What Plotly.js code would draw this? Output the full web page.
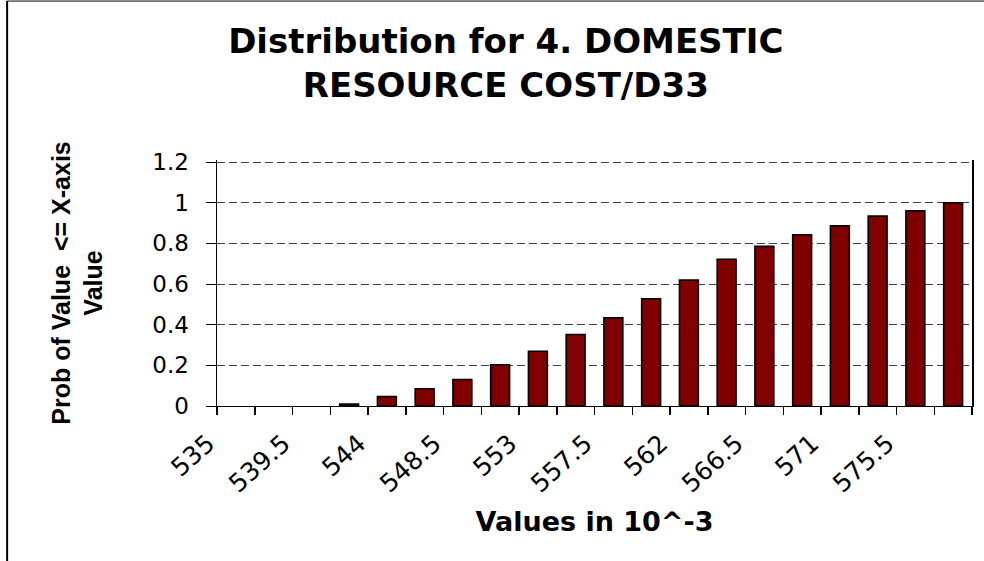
<!DOCTYPE html>
<html>
<head>
<meta charset="utf-8">
<script src="https://cdn.plot.ly/plotly-3.0.1.min.js"></script>
<style>
  html, body { margin: 0; padding: 0; background: #fff; }
  #chart { width: 984px; height: 561px; }
</style>
</head>
<body>
<div id="chart"></div>
<script>
// Category values (x, in 10^-3)
const values = [535, 537.25, 539.5, 541.75, 544, 546.25, 548.5, 550.75, 553, 555.25,
                557.5, 559.75, 562, 564.25, 566.5, 568.75, 571, 573.25, 575.5, 577.75];
// Cumulative probability (Prob of Value <= X-axis Value)
const probs = [0, 0, 0, 0.01, 0.046, 0.085, 0.13, 0.203, 0.269, 0.352,
               0.434, 0.527, 0.619, 0.722, 0.785, 0.842, 0.886, 0.934, 0.96, 1.0];
// Tick labels shown on x axis
const tickLabels = ['535', '539.5', '544', '548.5', '553', '557.5', '562', '566.5', '571', '575.5'];
const yTicks = [0, 0.2, 0.4, 0.6, 0.8, 1, 1.2];

const step = values[1] - values[0];
const xRange = [values[0] - step / 2, values[values.length - 1] + step / 2];
const tickVals = tickLabels.map(Number);
// no outline on empty (zero-height) bars
const outlineWidths = probs.map(p => (p > 0 ? 1.6 : 0));

const trace = {
  type: 'bar',
  x: values,
  y: probs,
  marker: { color: '#800000', line: { color: '#000000', width: outlineWidths } },
  hoverinfo: 'skip'
};

const layout = {
  width: 984,
  height: 561,
  margin: { l: 217, r: 12, t: 160, b: 155 },
  paper_bgcolor: '#ffffff',
  plot_bgcolor: '#ffffff',
  bargap: 0.5,
  showlegend: false,
  title: {
    text: 'Distribution for 4. DOMESTIC<br>RESOURCE COST/D33',
    font: { family: 'DejaVu Sans', size: 34, weight: 'bold', color: '#000000' },
    xref: 'container', x: 0.514, xanchor: 'center',
    yref: 'container', y: 0.906, yanchor: 'middle'
  },
  xaxis: {
    type: 'linear',
    range: xRange,
    tickvals: tickVals,
    ticktext: tickLabels,
    tickangle: -42,
    ticks: '',
    ticklabelshift: -28,
    ticklabelstandoff: 12,
    tickfont: { family: 'DejaVu Sans', size: 25, color: '#000000' },
    showline: true, linecolor: '#000000', linewidth: 1,
    showgrid: false, zeroline: false,
    minor: { ticks: 'outside', tick0: xRange[0], dtick: step, ticklen: 8,
             tickcolor: '#000000', tickwidth: 1.5, showgrid: false },
    title: { text: 'Values in 10^-3',
             font: { family: 'DejaVu Sans', size: 27, weight: 'bold', color: '#000000' },
             standoff: 14 },
    automargin: false,
    fixedrange: true
  },
  yaxis: {
    range: [0, 1.21],
    tickvals: yTicks,
    ticks: 'outside', ticklen: 10, tickcolor: '#000000', tickwidth: 1,
    showline: true, mirror: true, linecolor: '#000000', linewidth: 1.5,
    showgrid: true, gridcolor: '#404040', gridwidth: 1, griddash: '8px,4px',
    zeroline: false,
    tickfont: { family: 'DejaVu Sans', size: 23, color: '#000000' },
    ticklabelstandoff: 12,
    title: { text: 'Prob of Value  &lt;= X-axis<br>Value',
             font: { family: 'Liberation Sans, Arial', size: 25, weight: 'bold', color: '#000000' },
             standoff: 42 },
    automargin: false,
    fixedrange: true
  },
  shapes: [
    { type: 'line', xref: 'paper', yref: 'paper', x0: -0.278, x1: -0.278, y0: -1, y1: 1.646,
      line: { color: '#000000', width: 2 } },
    { type: 'line', xref: 'paper', yref: 'paper', x0: -0.278, x1: 1.2, y0: 1.646, y1: 1.646,
      line: { color: '#000000', width: 1 } }
  ]
};

Plotly.newPlot('chart', [trace], layout, { staticPlot: true, displayModeBar: false });
</script>
</body>
</html>
